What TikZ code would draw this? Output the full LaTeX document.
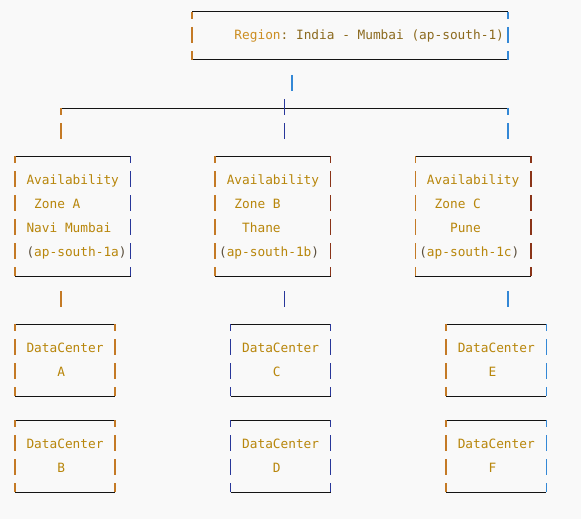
\documentclass[tikz,border=0pt]{standalone}
\usepackage{fontspec}
\setmonofont{DejaVu Sans Mono}
\definecolor{bg}{HTML}{F9F9F9}
\definecolor{gold}{HTML}{B8860B}
\definecolor{regc}{HTML}{CC8E22}
\definecolor{brn}{HTML}{8C6A1E}
\definecolor{par}{HTML}{5A4E3C}
\definecolor{hlc}{HTML}{141414}
\definecolor{orng}{HTML}{C47A26}
\definecolor{dblue}{HTML}{28379A}
\definecolor{lblue}{HTML}{3488D6}
\definecolor{dred}{HTML}{8A3418}
\tikzset{
  hl/.style={draw=hlc, line width=1pt},
  vl/.style={line width=1.5pt},
  txt/.style={anchor=base west, inner sep=0pt, outer sep=0pt,
    font=\ttfamily\fontsize{12.79}{15}\selectfont, text=gold},
}
\newcommand\pr[1]{\textcolor{par}{#1}}
\newcommand\abox[7]{%
  \coordinate (#1nw) at ({cx(#2)},{ry(#4)});
  \coordinate (#1ne) at ({cx(#3)},{ry(#4)});
  \coordinate (#1sw) at ({cx(#2)},{ry(#5)});
  \coordinate (#1se) at ({cx(#3)},{ry(#5)});
  \draw[hl] (#1nw) -- (#1ne);
  \draw[hl] (#1sw) -- (#1se);
  \draw[vl,draw=#6] (#1nw) -- ++(0,7);
  \draw[vl,draw=#7] (#1ne) -- ++(0,7);
  \draw[vl,draw=#6] (#1sw) -- ++(0,-9);
  \draw[vl,draw=#7] (#1se) -- ++(0,-9);
  \pgfmathtruncatemacro\ra{#4+1}\pgfmathtruncatemacro\rb{#5-1}%
  \foreach \rw in {\ra,...,\rb}{
    \draw[vl,draw=#6] ({cx(#2)},{ry(\rw)-9}) -- ({cx(#2)},{ry(\rw)+7});
    \draw[vl,draw=#7] ({cx(#3)},{ry(\rw)-9}) -- ({cx(#3)},{ry(\rw)+7});
  }%
}
\begin{document}
\begin{tikzpicture}[x=1pt,y=-1pt,
  declare function={cx(\cc)=15+7.7*\cc; ry(\rr)=12+24*\rr;}]
\useasboundingbox[fill=bg] (0,0) rectangle (581,519);

% boxes
\abox{reg}{23}{64}{0}{2}{orng}{lblue}
\abox{za}{0}{15}{6}{11}{orng}{dblue}
\abox{zb}{26}{41}{6}{11}{orng}{dred}
\abox{zc}{52}{67}{6}{11}{orng}{dred}
\abox{dca}{0}{13}{13}{16}{orng}{orng}
\abox{dcb}{0}{13}{17}{20}{orng}{orng}
\abox{dcc}{28}{41}{13}{16}{dblue}{dblue}
\abox{dcd}{28}{41}{17}{20}{dblue}{dblue}
\abox{dce}{56}{69}{13}{16}{orng}{lblue}
\abox{dcf}{56}{69}{17}{20}{orng}{lblue}

% texts
\node[txt] (treg) at ({cx(29)-3.85},{ry(1)+4})
  {\textcolor{regc}{Region}\textcolor{brn}{: India - Mumbai (ap-south-1)}};

\node[txt] (za1) at ({cx(2)-3.85},{ry(7)+4}) {Availability};
\node[txt] (za2) at ({cx(3)-3.85},{ry(8)+4}) {Zone A};
\node[txt] (za3) at ({cx(2)-3.85},{ry(9)+4}) {Navi Mumbai};
\node[txt] (za4) at ({cx(2)-3.85},{ry(10)+4}) {\pr{(}ap-south-1a\pr{)}};

\node[txt] (zb1) at ({cx(28)-3.85},{ry(7)+4}) {Availability};
\node[txt] (zb2) at ({cx(29)-3.85},{ry(8)+4}) {Zone B};
\node[txt] (zb3) at ({cx(30)-3.85},{ry(9)+4}) {Thane};
\node[txt] (zb4) at ({cx(27)-3.85},{ry(10)+4}) {\pr{(}ap-south-1b\pr{)}};

\node[txt] (zc1) at ({cx(54)-3.85},{ry(7)+4}) {Availability};
\node[txt] (zc2) at ({cx(55)-3.85},{ry(8)+4}) {Zone C};
\node[txt] (zc3) at ({cx(57)-3.85},{ry(9)+4}) {Pune};
\node[txt] (zc4) at ({cx(53)-3.85},{ry(10)+4}) {\pr{(}ap-south-1c\pr{)}};

\node[txt] (dca1) at ({cx(2)-3.85},{ry(14)+4}) {DataCenter};
\node[txt] (dca2) at ({cx(6)-3.85},{ry(15)+4}) {A};
\node[txt] (dcb1) at ({cx(2)-3.85},{ry(18)+4}) {DataCenter};
\node[txt] (dcb2) at ({cx(6)-3.85},{ry(19)+4}) {B};
\node[txt] (dcc1) at ({cx(30)-3.85},{ry(14)+4}) {DataCenter};
\node[txt] (dcc2) at ({cx(34)-3.85},{ry(15)+4}) {C};
\node[txt] (dcd1) at ({cx(30)-3.85},{ry(18)+4}) {DataCenter};
\node[txt] (dcd2) at ({cx(34)-3.85},{ry(19)+4}) {D};
\node[txt] (dce1) at ({cx(58)-3.85},{ry(14)+4}) {DataCenter};
\node[txt] (dce2) at ({cx(62)-3.85},{ry(15)+4}) {E};
\node[txt] (dcf1) at ({cx(58)-3.85},{ry(18)+4}) {DataCenter};
\node[txt] (dcf2) at ({cx(62)-3.85},{ry(19)+4}) {F};

% connectors
\coordinate (stemT) at ({cx(36)},{ry(3)-9});
\coordinate (stemB) at ({cx(36)},{ry(3)+7});
\draw[vl,draw=lblue] (stemT) -- (stemB);

\coordinate (busL) at ({cx(6)},{ry(4)});
\coordinate (busR) at ({cx(64)},{ry(4)});
\coordinate (busMT) at ({cx(35)},{ry(4)-9});
\coordinate (busMB) at ({cx(35)},{ry(4)+7});
\draw[hl] (busL) -- (busR);
\draw[vl,draw=orng] (busL) -- ++(0,7);
\draw[vl,draw=lblue] (busR) -- ++(0,7);
\draw[vl,draw=dblue] (busMT) -- (busMB);

\foreach \rw/\nm in {5/u,12/d}{
  \coordinate (t\nm aT) at ({cx(6)},{ry(\rw)-9});
  \coordinate (t\nm aB) at ({cx(6)},{ry(\rw)+7});
  \coordinate (t\nm bT) at ({cx(35)},{ry(\rw)-9});
  \coordinate (t\nm bB) at ({cx(35)},{ry(\rw)+7});
  \coordinate (t\nm cT) at ({cx(64)},{ry(\rw)-9});
  \coordinate (t\nm cB) at ({cx(64)},{ry(\rw)+7});
  \draw[vl,draw=orng] (t\nm aT) -- (t\nm aB);
  \draw[vl,draw=dblue] (t\nm bT) -- (t\nm bB);
  \draw[vl,draw=lblue] (t\nm cT) -- (t\nm cB);
}
\end{tikzpicture}
\end{document}
